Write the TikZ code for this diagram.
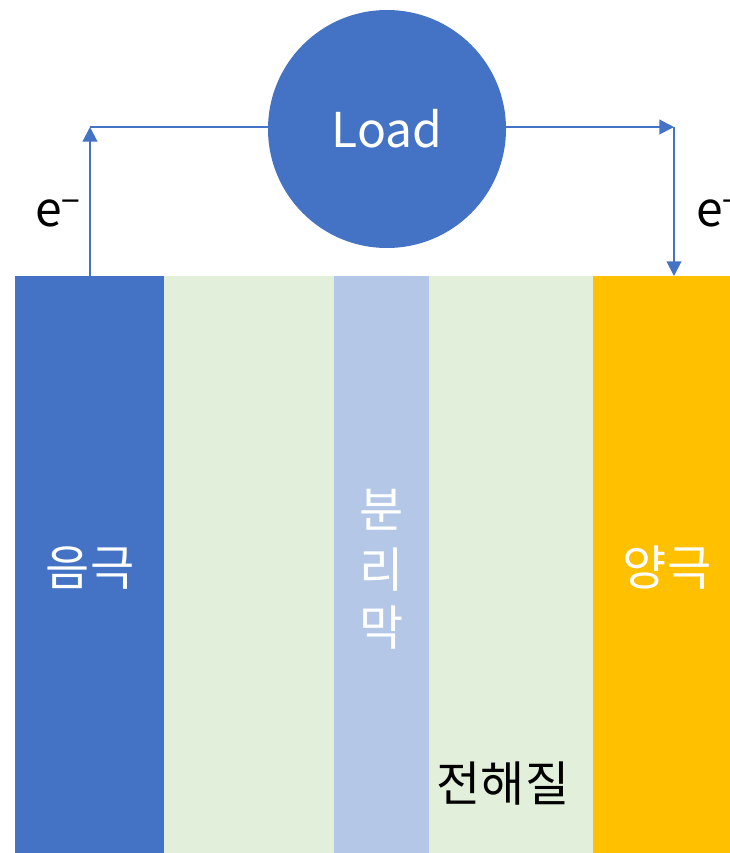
\documentclass[tikz,border=0pt]{standalone}
\usepackage{fontspec}
\setmainfont{Noto Sans CJK KR}
\usetikzlibrary{arrows.meta}
\definecolor{cblue}{HTML}{4472C4}
\definecolor{cgreen}{HTML}{E2EFDA}
\definecolor{csep}{HTML}{B4C7E7}
\definecolor{cyel}{HTML}{FFC000}
\tikzset{
  wire/.style={draw=cblue, line width=1.5pt},
  arr/.style={wire, -{Triangle[length=11pt,width=11pt]}},
  wtext/.style={text=white, font=\fontsize{36}{42}\selectfont, inner sep=0pt},
  btext/.style={text=black, font=\fontsize{36}{42}\selectfont, inner sep=0pt},
}
\begin{document}
\begin{tikzpicture}[x=0.75pt,y=-0.75pt]
\useasboundingbox (0,0) rectangle (730,853);
\fill[cblue] (15,276) rectangle (164,853);
\fill[cgreen] (164,276) rectangle (334,853);
\fill[csep] (334,276) rectangle (429,853);
\fill[cgreen] (429,276) rectangle (593,853);
\fill[cyel] (593,276) rectangle (730,853);
\node[circle, fill=cblue, minimum size=178.5pt, inner sep=0pt] (load) at (387,129) {};
\node[wtext] at (load) {Load};
\coordinate (ltop) at (90,127);
\coordinate (lbot) at (90,276);
\coordinate (rtop) at (674,127);
\coordinate (rbot) at (674,276);
\draw[arr] (lbot) -- (ltop);
\draw[wire] (ltop) -- (load.west |- ltop);
\draw[arr] (load.east |- rtop) -- (rtop);
\draw[arr] (rtop) -- (rbot);
\node[btext, anchor=base] (el) at (58,226) {e\textsuperscript{−}};
\node[btext, anchor=base west] (er) at (696,226) {e\textsuperscript{−}};
\node[wtext] (neg) at (90,568) {음극};
\node[wtext] (pos) at (667,568) {양극};
\node[wtext] (s1) at (382,510) {분};
\node[wtext] (s2) at (382,570) {리};
\node[wtext] (s3) at (382,628) {막};
\node[btext] (ele) at (503,784) {전해질};
\end{tikzpicture}
\end{document}
